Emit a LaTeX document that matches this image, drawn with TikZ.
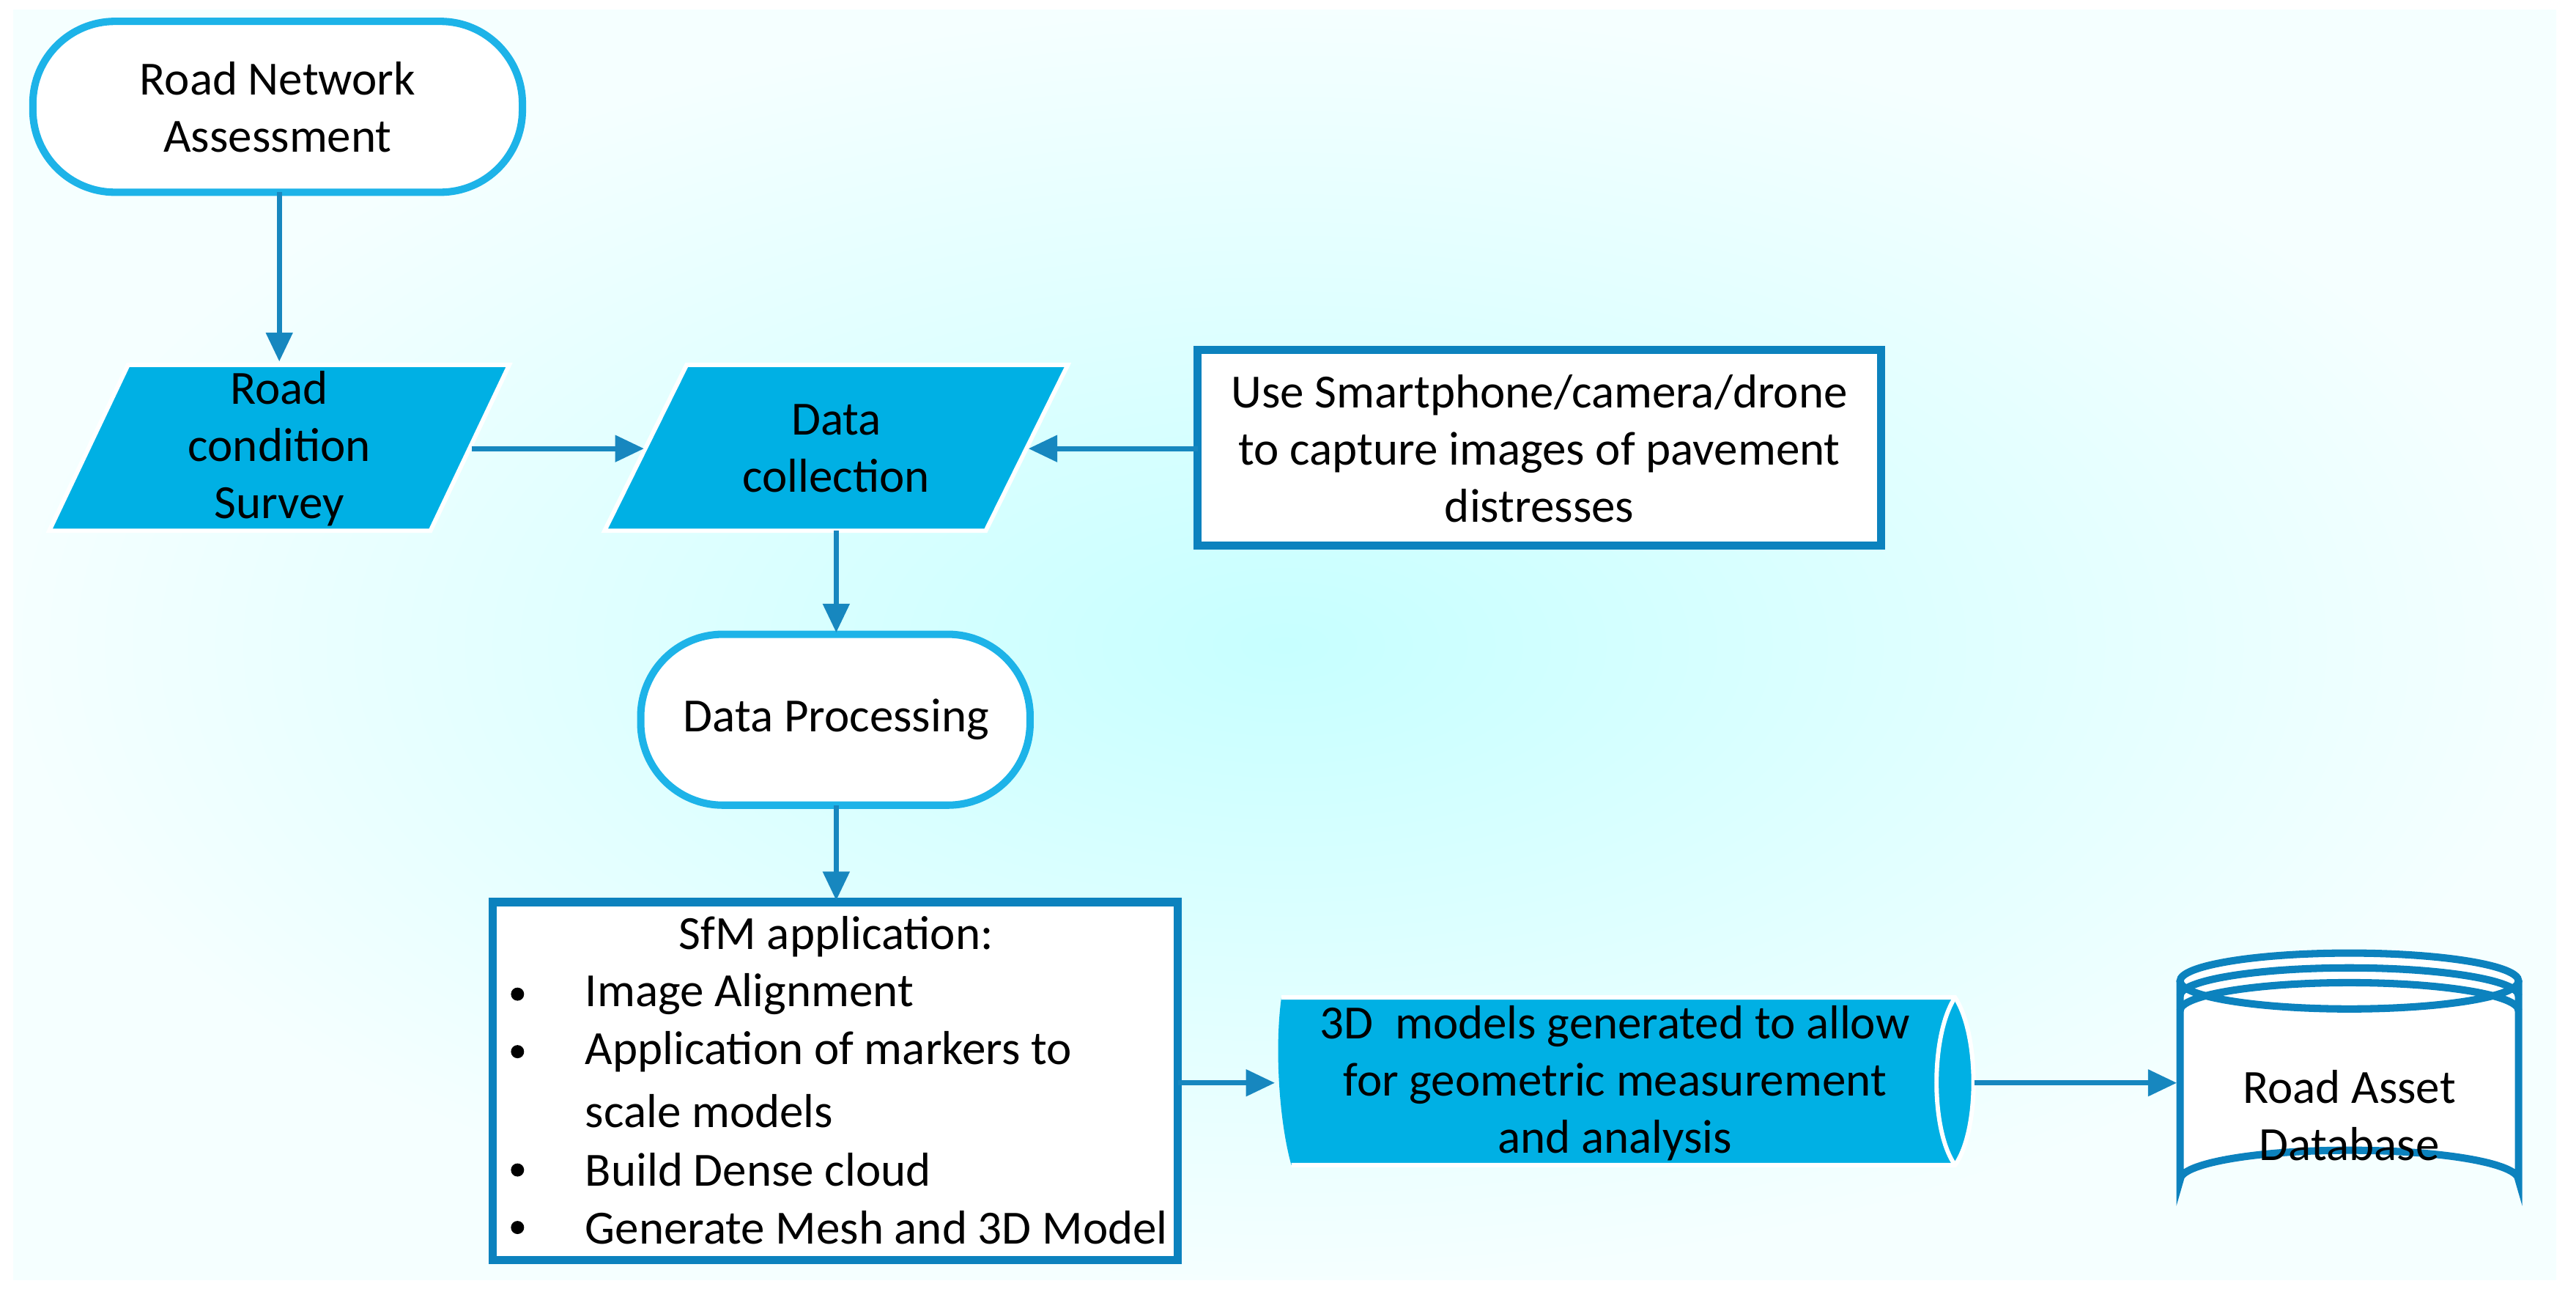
\documentclass[tikz,border=0pt]{standalone}
\usepackage{fontspec}
\setmainfont{Carlito}
\usetikzlibrary{shapes.geometric,arrows.meta}
\definecolor{cfill}{HTML}{00B0E4}
\definecolor{cterm}{HTML}{1DB3E8}
\definecolor{cbox}{HTML}{0C82BE}
\definecolor{carr}{HTML}{1787BF}
\begin{document}
\begin{tikzpicture}[x=0.02cm,y=-0.02cm,
  every node/.style={font=\fontsize{16.5}{19.8}\selectfont,align=center},
  term/.style={draw=cterm,line width=4.5*0.567pt,fill=white,rounded corners=50*0.02cm,inner sep=0pt},
  para/.style={draw=white,line width=1.5pt,fill=cfill},
  box/.style={draw=cbox,line width=5*0.567pt,fill=white},
  arr/.style={draw=carr,line width=3*0.567pt,-{Triangle[length=10pt,width=9pt]}}]
\useasboundingbox (0,0) rectangle (1568,791);
\shade[inner color=cyan!22,outer color=cyan!4] (8,6) rectangle (1556,779);
% terminal 1
\draw[term] (20,13) rectangle (318,117);
\node (t1) at (169,65) {Road Network\\Assessment};
\coordinate (t1b) at (170,117);
% para1
\filldraw[para] (78,222) -- (310,222) -- (262,323) -- (30,323) -- cycle;
\node (p1) at (170,273) {Road\\condition\\Survey};
\filldraw[para] (418,222) -- (650,222) -- (600,323) -- (368,323) -- cycle;
\node (p2) at (509,273) {Data\\collection};
\draw[box] (729,213) rectangle (1145,332);
\node (b1) at (937,273) {Use Smartphone/camera/drone\\to capture images of pavement\\distresses};
\draw[term] (390,386) rectangle (627,490);
\node (t2) at (509,438) {Data Processing};
\draw[box] (300,549) rectangle (717,767);
\node (sfm) at (509,570) {SfM application:};
\foreach \y/\t in {605/Image Alignment,640/Application of markers to,676/scale models,712/Build Dense cloud,747/Generate Mesh and 3D Model}{
  \node[anchor=west] at (350,\y) {\t};}
\foreach \y in {605,640,712,747}{\fill (315,\y) circle (4);}
% cylinder
\fill[cfill] (780,607) -- (1190,607) .. controls (1205,630) and (1205,688) .. (1190,709) -- (786,709) .. controls (778,680) and (776,635) .. (780,607) -- cycle;
\draw[white,line width=1.5pt] (1190,607) .. controls (1175,630) and (1175,688) .. (1190,709);
\draw[white,line width=1.5pt] (780,607) -- (1190,607) .. controls (1205,630) and (1205,688) .. (1190,709) -- (786,709);
\node (cy) at (983,659) {3D\ \ models generated to allow\\for geometric measurement\\and analysis};
% database
\begin{scope}[draw=cbox,line width=4.5*0.567pt]
\filldraw[fill=white] (1327,597) -- (1327,718) arc[start angle=180,end angle=360,x radius=103,y radius=18] -- (1533,597);
\filldraw[fill=white] (1430,597) ellipse [x radius=103,y radius=17];
\draw (1327,606) arc[start angle=180,end angle=360,x radius=103,y radius=17];
\draw (1327,615) arc[start angle=180,end angle=360,x radius=103,y radius=17];
\end{scope}
\node (db) at (1430,679) {Road Asset\\Database};
% arrows
\draw[arr] (t1b) -- (170,220);
\draw[arr] (287,273) -- (392,273);
\draw[arr] (729,273) -- (626,273);
\draw[arr] (509,323) -- (509,385);
\draw[arr] (509,490) -- (509,548);
\draw[arr] (717,659) -- (776,659);
\draw[arr] (1202,659) -- (1325,659);
\end{tikzpicture}
\end{document}
